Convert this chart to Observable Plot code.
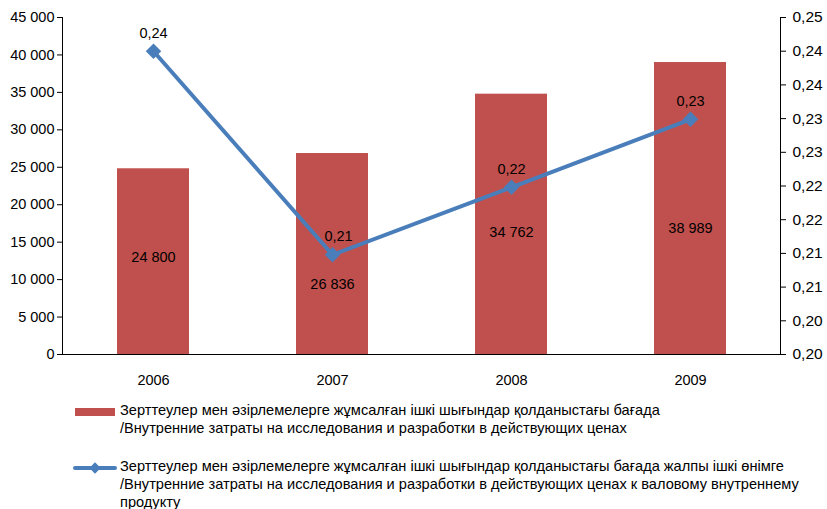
<!DOCTYPE html>
<html><head><meta charset="utf-8">
<script src="https://cdn.jsdelivr.net/npm/d3@7"></script>
<script src="https://cdn.jsdelivr.net/npm/@observablehq/plot@0.6"></script>
<style>
body{margin:0;background:#fff;font-family:"Liberation Sans",Arial,sans-serif;}
#chart svg{display:block;}
#legend{position:relative;height:114px;font-size:14.6px;color:#000;line-height:18px;}
.item{position:absolute;left:73px;display:flex;align-items:flex-start;white-space:nowrap;}
.sw{width:44px;flex:none;position:relative;height:18px;margin-right:3px;}
.rect{position:absolute;left:2px;right:2px;top:7px;height:8px;background:#C0504D;}
.ln{position:absolute;left:0;right:0;top:9px;height:4px;background:#4A7EBB;border-radius:2px;}
.dm{position:absolute;left:18px;top:7px;width:8px;height:8px;background:#4A7EBB;transform:rotate(45deg);}
</style></head><body>
<div id="chart"></div>
<div id="legend"></div>
<script>
const years = ["2006", "2007", "2008", "2009"];
const expenditures = [24800, 26836, 34762, 38989];
const expenditureLabels = ["24 800", "26 836", "34 762", "38 989"];
const gdpShare = [0.245, 0.2148, 0.2248, 0.2349];
const gdpShareLabels = ["0,24", "0,21", "0,22", "0,23"];
const leftTicks = [0, 5000, 10000, 15000, 20000, 25000, 30000, 35000, 40000, 45000];
const rightTickValues = [0.200, 0.205, 0.210, 0.215, 0.220, 0.225, 0.230, 0.235, 0.240, 0.245, 0.250];
const rightTickLabels = ["0,20", "0,20", "0,21", "0,21", "0,22", "0,22", "0,23", "0,23", "0,24", "0,24", "0,25"];
const seriesNames = [
  "Зерттеулер мен әзірлемелерге жұмсалған ішкі шығындар қолданыстағы бағада<br>/Внутренние затраты на исследования и разработки в действующих ценах",
  "Зерттеулер мен әзірлемелерге жұмсалған ішкі шығындар қолданыстағы бағада жалпы ішкі өнімге<br>/Внутренние затраты на исследования и разработки в действующих ценах к валовому внутреннему<br>продукту"
];

// label offsets (style): shifts of labels in px
const barLabelDy = [-4, 30, 8, 20];
const shareLabelDx = [0, 6, 0, 0];

const leftMax = 45000, rMin = 0.20, rMax = 0.25;
const toLeft = v => (v - rMin) / (rMax - rMin) * leftMax;
const rightTickPos = rightTickValues.map(toLeft);

const rows = years.map((y, i) => ({year: y, value: expenditures[i], vlabel: expenditureLabels[i], share: gdpShare[i], slabel: gdpShareLabels[i], dy: barLabelDy[i], dx: shareLabelDx[i]}));
const fmt = d3.formatLocale({decimal: ",", thousands: " ", grouping: [3], currency: ["", ""]}).format(",d");

const blue = "#4A7EBB", red = "#C0504D";

const chart = Plot.plot({
  width: 827, height: 395,
  marginLeft: 62, marginRight: 47, marginTop: 17, marginBottom: 41,
  style: {fontFamily: "Liberation Sans, Arial, sans-serif", fontSize: "14px", color: "#000"},
  x: {type: "band", domain: years, paddingInner: 0.6, paddingOuter: 0.3, label: null},
  y: {domain: [0, leftMax], label: null},
  marks: [
    Plot.barY(rows, {x: "year", y: "value", fill: red}),
    ...rows.map(r => Plot.text([r], {x: "year", y: d => d.value / 2, text: "vlabel", dy: r.dy, fontSize: 14.5, fill: "#000"})),
    Plot.axisY({anchor: "left", ticks: leftTicks, tickFormat: fmt, tickSize: 5, tickPadding: 3, fontSize: 14.5, label: null}),
    Plot.axisY({anchor: "right", ticks: rightTickPos, tickFormat: t => rightTickLabels[rightTickPos.indexOf(t)], tickSize: 5, tickPadding: 7, fontSize: 15.5, label: null}),
    Plot.axisX({tickSize: 0, tickPadding: 20, fontSize: 14.5, label: null}),
    Plot.frame({anchor: "left", stroke: "#000"}),
    Plot.frame({anchor: "right", stroke: "#000"}),
    Plot.ruleY([0], {stroke: "#000"}),
    Plot.line(rows, {x: "year", y: d => toLeft(d.share), stroke: blue, strokeWidth: 4}),
    Plot.dot(rows, {x: "year", y: d => toLeft(d.share), symbol: "diamond2", r: 7, fill: blue, stroke: "none"}),
    ...rows.map(r => Plot.text([r], {x: "year", y: d => toLeft(d.share), text: "slabel", dy: -18, dx: r.dx, fontSize: 14.5, fill: "#000"}))
  ]
});
document.getElementById("chart").append(chart);

const lg = document.getElementById("legend");
lg.innerHTML = `
<div class="item" style="top:6px"><div class="sw"><div class="rect"></div></div><div>${seriesNames[0]}</div></div>
<div class="item" style="top:62px"><div class="sw"><div class="ln"></div><div class="dm"></div></div><div>${seriesNames[1]}</div></div>`;
</script>
</body></html>
